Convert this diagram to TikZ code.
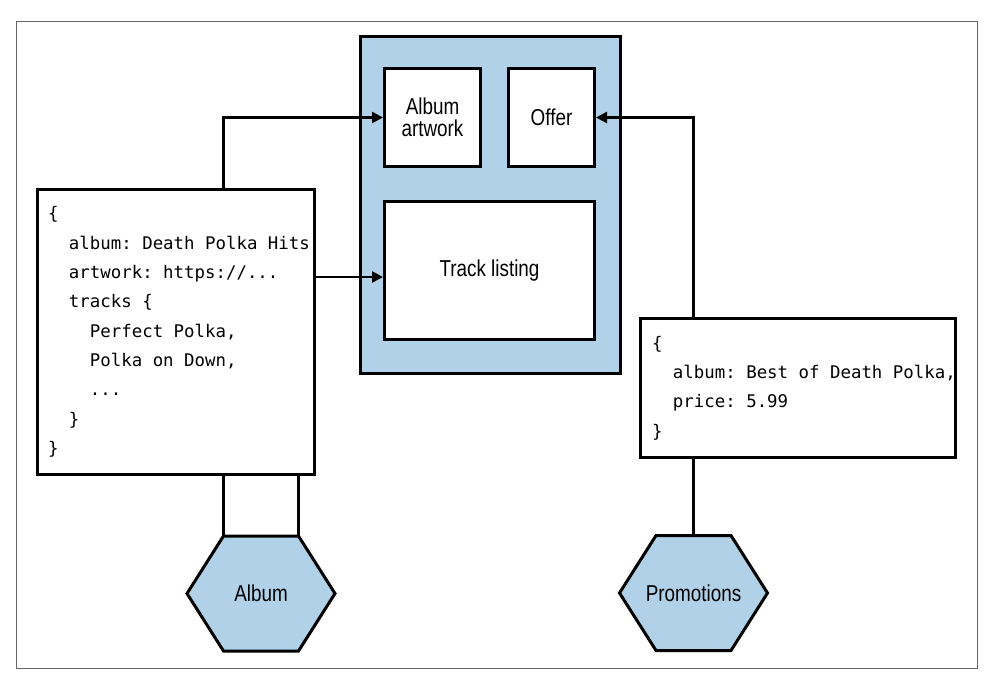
\documentclass[tikz,border=0pt]{standalone}
\usepackage{fontspec}
\setmonofont{DejaVu Sans Mono}
\newfontfamily\labelfont[FakeStretch=0.82]{Liberation Sans}
\usepackage{tikz}
\usetikzlibrary{arrows.meta,calc}
\definecolor{boxblue}{RGB}{176,209,232}
\newcommand{\ind}{\phantom{xx}}
\newcommand{\sk}{\phantom{x}}
\DeclareRobustCommand{\jsonfont}{\ttfamily\fontsize{17.4}{29.3}\selectfont}

\tikzset{
  outerframe/.style={draw=black!60, line width=1pt},
  panel/.style={draw, line width=3pt, fill=boxblue, inner sep=0pt},
  widget/.style={draw, line width=3pt, fill=white, inner sep=0pt, align=center,
    font=\labelfont\fontsize{23}{22}\selectfont},
  json/.style={draw, line width=3pt, fill=white, inner sep=0pt, align=left, font=\jsonfont},
  wire/.style={line width=2.5pt},
  feedarrow/.style={wire, -{Triangle[length=11pt,width=11pt]}},
  hexa/.style={draw, line width=3pt, fill=boxblue, line join=miter},
  service/.style={font=\labelfont\fontsize{23}{22}\selectfont},
}

\begin{document}
\begin{tikzpicture}[x=1pt,y=-1pt]
    \useasboundingbox (0,0) rectangle (992,672);
    \draw[outerframe] (16,21) rectangle (977,668);
    % the page with its three parts
    \node[panel, minimum width=260, minimum height=337] (page) at (490.5,205) {};
    \node[widget, minimum width=96, minimum height=98] (artwork) at (432.5,117.5) {Album\\artwork};
    \node[widget, minimum width=86, minimum height=98] (offer) at (551.5,117.5) {Offer};
    \node[widget, minimum width=210, minimum height=138] (track) at (489.5,270.5) {Track listing};
    % data coming from the services
    \node[json, minimum width=277, minimum height=285, text width=256] (albumjson) at (176,332)
        {\{\\ \ind album:\sk Death\sk Polka\sk Hits\\ \ind artwork:\sk https://...\\ \ind tracks\sk\{\\
         \ind\ind Perfect\sk Polka,\\ \ind\ind Polka\sk on\sk Down,\\ \ind\ind ...\\ \ind\}\\ \}};
    \node[json, minimum width=315, minimum height=139, text width=292] (promojson) at (798,388)
        {\{\\ \ind album:\sk Best\sk of\sk Death\sk Polka,\\ \ind price:\sk 5.99\\ \}};
    % hexagons
    \coordinate (albumhex) at (261,593.5);
    \coordinate (albumtl) at ($(albumhex)+(-37.5,-57.5)$);
    \coordinate (albumtr) at ($(albumhex)+(37.5,-57.5)$);
    \draw[hexa] (albumtl) -- (albumtr) -- ($(albumhex)+(74,0)$) -- ($(albumhex)+(37.5,57.5)$)
        -- ($(albumhex)+(-37.5,57.5)$) -- ($(albumhex)+(-74,0)$) -- cycle;
    \node[service] (albumlabel) at (albumhex) {Album};
    \coordinate (promohex) at (693.5,593);
    \coordinate (promotl) at ($(promohex)+(-37.5,-57.5)$);
    \coordinate (promotr) at ($(promohex)+(37.5,-57.5)$);
    \coordinate (promotop) at ($(promohex)+(0,-57.5)$);
    \draw[hexa] (promotl) -- (promotr) -- ($(promohex)+(74,0)$) -- ($(promohex)+(37.5,57.5)$)
        -- ($(promohex)+(-37.5,57.5)$) -- ($(promohex)+(-74,0)$) -- cycle;
    \node[service] (promolabel) at (promohex) {Promotions};
    % connectors
    \draw[feedarrow] (albumtl |- albumjson.north) |- (artwork.west);
    \draw[feedarrow] ([yshift=55pt]albumjson.east) -- ([yshift=55pt]albumjson.east -| track.west);
    \draw[feedarrow] (promotop |- promojson.north) |- (offer.east);
    \draw[wire] (albumtl |- albumjson.south) -- (albumtl);
    \draw[wire] (albumtr |- albumjson.south) -- (albumtr);
    \draw[wire] (promotop |- promojson.south) -- (promotop);
\end{tikzpicture}
\end{document}
